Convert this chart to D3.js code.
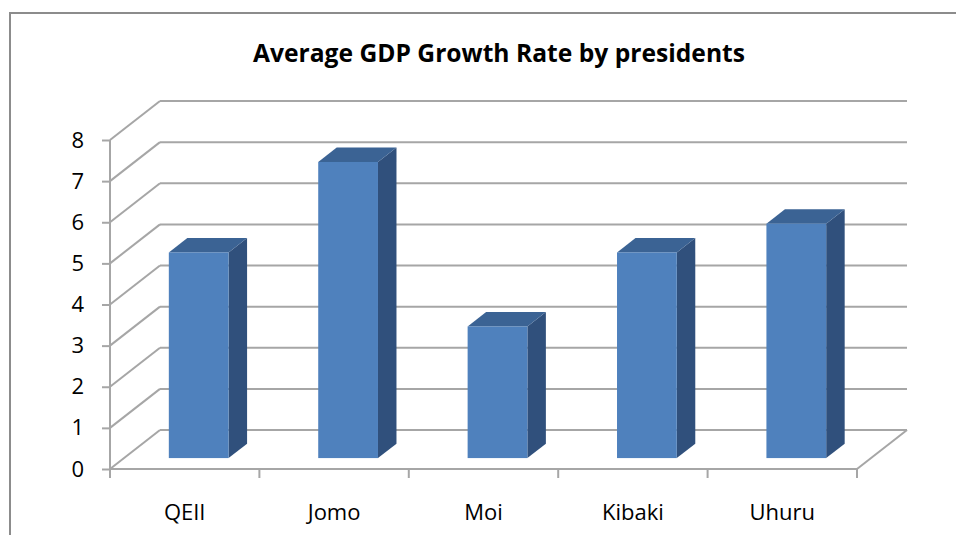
<!DOCTYPE html>
<html>
<head>
<meta charset="utf-8">
<script src="https://cdn.jsdelivr.net/npm/d3@7"></script>
<style>
  html, body { margin: 0; padding: 0; background: #fff; }
  svg { display: block; }
</style>
</head>
<body>
<svg id="chart" width="956" height="535"></svg>
<script>
// ---- data ----
const categories = ["QEII", "Jomo", "Moi", "Kibaki", "Uhuru"];
const growthRates = [5.0, 7.2, 3.2, 5.0, 5.7];
const yTicks = [0, 1, 2, 3, 4, 5, 6, 7, 8];
const chartTitle = "Average GDP Growth Rate by presidents";

// ---- layout ----
const W = 956, H = 535;
const svg = d3.select("#chart");
const frontLeft = 110, frontRight = 857;
const yZero = 469, yTop = 140;
const depthX = 50, depthY = -39;   // full depth offset of the back wall
const barD0 = 0.28, barD1 = 0.65;  // bar depth span (fraction of full depth)
const barWidthFrac = 0.40;

const x = d3.scaleBand().domain(categories).range([frontLeft, frontRight]).paddingInner(0).paddingOuter(0);
const y = d3.scaleLinear().domain([0, 8]).range([yZero, yTop]);

// frame
svg.append("rect")
  .attr("x", 10).attr("y", 13)
  .attr("width", W + 20).attr("height", H + 20)
  .attr("fill", "#fff").attr("stroke", "#8c8c8c").attr("stroke-width", 2);

// title
svg.append("text")
  .attr("x", 499).attr("y", 62)
  .attr("text-anchor", "middle")
  .attr("font-family", "'Open Sans', sans-serif")
  .attr("font-weight", "bold")
  .attr("font-size", 25)
  .attr("textLength", 492)
  .attr("lengthAdjust", "spacingAndGlyphs")
  .attr("fill", "#000")
  .text(chartTitle);

const gridColor = "#a6a6a6";
const grid = svg.append("g").attr("stroke", gridColor).attr("stroke-width", 2).attr("fill", "none");

// back wall horizontal gridlines + left wall diagonals
yTicks.forEach(v => {
  grid.append("line")
    .attr("x1", frontLeft + depthX).attr("y1", y(v) + depthY)
    .attr("x2", frontRight + depthX).attr("y2", y(v) + depthY);
  grid.append("line")
    .attr("x1", frontLeft).attr("y1", y(v))
    .attr("x2", frontLeft + depthX).attr("y2", y(v) + depthY);
});
// floor: front edge & right diagonal
grid.append("line")
  .attr("x1", frontLeft).attr("y1", y(0))
  .attr("x2", frontRight).attr("y2", y(0));
grid.append("line")
  .attr("x1", frontRight).attr("y1", y(0))
  .attr("x2", frontRight + depthX).attr("y2", y(0) + depthY);

// y axis
const yAxisG = svg.append("g").attr("transform", `translate(${frontLeft},0)`);
yAxisG.call(d3.axisLeft(y).tickValues(yTicks).tickSize(8).tickPadding(18).tickFormat(d3.format("d")));
yAxisG.select(".domain").attr("stroke", gridColor).attr("stroke-width", 2).attr("d", `M-0,${yTop}V${yZero}`);
yAxisG.selectAll(".tick line").attr("stroke", gridColor).attr("stroke-width", 2);
yAxisG.selectAll(".tick text")
  .attr("font-family", "'Open Sans', sans-serif")
  .attr("font-size", 22).attr("fill", "#000");

// x axis ticks (category boundaries)
const boundaries = categories.map(c => x(c)).concat([frontRight]);
svg.append("g").selectAll("line").data(boundaries).join("line")
  .attr("x1", d => d).attr("x2", d => d)
  .attr("y1", yZero).attr("y2", yZero + 9)
  .attr("stroke", gridColor).attr("stroke-width", 2);

// x labels
svg.append("g").selectAll("text").data(categories).join("text")
  .attr("x", d => x(d) + x.bandwidth() / 2)
  .attr("y", 520)
  .attr("text-anchor", "middle")
  .attr("font-family", "'Open Sans', sans-serif")
  .attr("font-size", 22)
  .attr("fill", "#000")
  .text(d => d);

// bars
const frontCol = "#4f81bd", topCol = "#3b6394", sideCol = "#30507c";
const bars = svg.append("g");
const data = categories.map((c, i) => ({ c, v: growthRates[i] }));
data.forEach(d => {
  const bw = x.bandwidth() * barWidthFrac;
  const cx = x(d.c) + x.bandwidth() / 2 + barD0 * depthX;
  const x0 = cx - bw / 2, x1 = cx + bw / 2;
  const yb = y(0) + barD0 * depthY;
  const yt = y(d.v) + barD0 * depthY;
  const ddx = (barD1 - barD0) * depthX, ddy = (barD1 - barD0) * depthY;
  bars.append("path")
    .attr("d", `M${x1},${yb}L${x1},${yt}L${x1 + ddx},${yt + ddy}L${x1 + ddx},${yb + ddy}Z`)
    .attr("fill", sideCol);
  bars.append("path")
    .attr("d", `M${x0},${yt}L${x0 + ddx},${yt + ddy}L${x1 + ddx},${yt + ddy}L${x1},${yt}Z`)
    .attr("fill", topCol);
  bars.append("rect")
    .attr("x", x0).attr("y", yt)
    .attr("width", bw).attr("height", yb - yt)
    .attr("fill", frontCol);
});
</script>
</body>
</html>
